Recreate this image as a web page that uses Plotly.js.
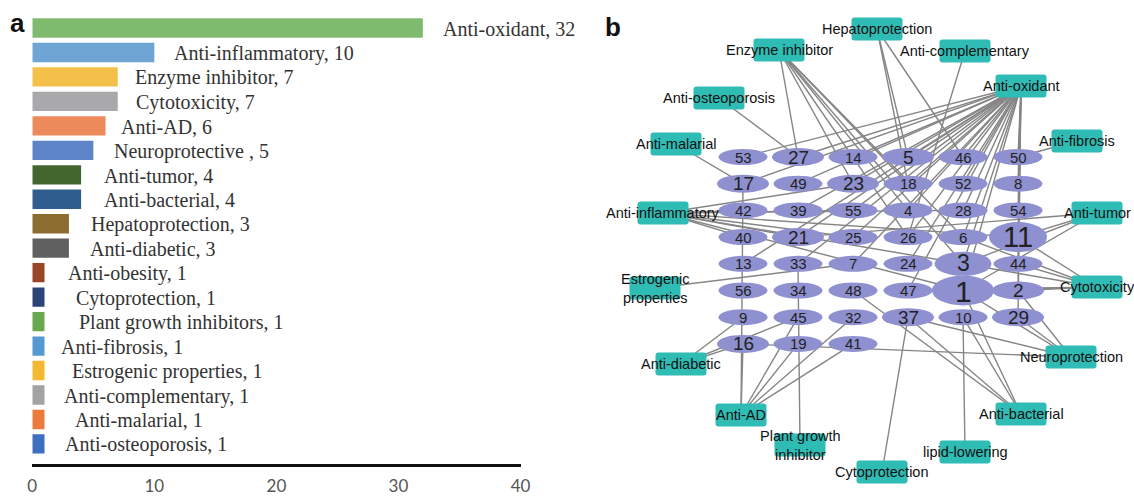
<!DOCTYPE html>
<html><head><meta charset="utf-8">
<script src="https://cdn.plot.ly/plotly-3.0.1.min.js"></script>
<style>html,body{margin:0;padding:0;background:#fff}#chart{width:1134px;height:496px}</style>
</head><body><div id="chart"></div>
<script>
// ================= DATA =================
// Panel a: number of compounds per bioactivity
const activities = ['Anti-oxidant','Anti-inflammatory','Enzyme inhibitor','Cytotoxicity','Anti-AD','Neuroprotective ','Anti-tumor','Anti-bacterial','Hepatoprotection','Anti-diabetic','Anti-obesity','Cytoprotection','Plant growth inhibitors','Anti-fibrosis','Estrogenic properties','Anti-complementary','Anti-malarial','Anti-osteoporosis'];
const counts = [32,10,7,7,6,5,4,4,3,3,1,1,1,1,1,1,1,1];
const xTicks = [0,10,20,30,40];

// Panel b: compound nodes (grid rows) and activity nodes with their links
const compoundRows = [
  [53,27,14,5,46,50],
  [17,49,23,18,52,8],
  [42,39,55,4,28,54],
  [40,21,25,26,6,11],
  [13,33,7,24,3,44],
  [56,34,48,47,1,2],
  [9,45,32,37,10,29],
  [16,19,41]
];
const functionNodes = ['Hepatoprotection','Enzyme inhibitor','Anti-complementary','Anti-oxidant','Anti-osteoporosis','Anti-malarial','Anti-fibrosis','Anti-inflammatory','Anti-tumor','Estrogenic<br>properties','Cytotoxicity','Anti-diabetic','Neuroprotection','Anti-AD','Anti-bacterial','Plant growth<br>inhibitor','lipid-lowering','Cytoprotection'];
const links = {
  'Anti-oxidant': [53,27,14,5,46,50,17,49,23,18,52,8,39,55,4,28,54,21,25,26,6,11,13,33,7,24,3,1,2,47,29,44],
  'Anti-inflammatory': [42,40,21,23,55,25,3,1,11,28],
  'Enzyme inhibitor': [27,23,18,4,26,6,3],
  'Cytotoxicity': [2,1,44,3,11,47,6],
  'Anti-AD': [17,16,45,19,32,41],
  'Neuroprotection': [16,37,1,29,2],
  'Anti-tumor': [11,3,21,1],
  'Anti-bacterial': [37,10,1,48],
  'Hepatoprotection': [5,18,46],
  'Anti-diabetic': [9,16,45],
  'Cytoprotection': [37],
  'Plant growth<br>inhibitor': [33],
  'Anti-fibrosis': [50],
  'Estrogenic<br>properties': [7],
  'Anti-complementary': [26],
  'Anti-malarial': [17],
  'Anti-osteoporosis': [27],
  'lipid-lowering': [10]
};

// ================= STYLE / LAYOUT =================
const barColors = ['#7fbb6f','#6ea5d5','#f5c04a','#a9a9ab','#ec8a5c','#5d85c8','#44672f','#2f5e8e','#8d6c30','#606060','#984626','#2a4478','#6aa84f','#5599d3','#f5b832','#a3a3a3','#ec7a3c','#3e6fc0'];
const labelPad = [18,18,15,16,13,19,21,21,20,19,21,29,32,14,25,17,28,18];

// network geometry (pixel units of panel b axes)
const gridX0 = 743, gridDX = 55, gridY0 = 157, gridDY = 26.7;
const funcPos = {
  'Hepatoprotection':[877,29], 'Enzyme inhibitor':[779,50], 'Anti-complementary':[965,51],
  'Anti-oxidant':[1021,86], 'Anti-osteoporosis':[719,98], 'Anti-malarial':[676,144],
  'Anti-fibrosis':[1077,141], 'Anti-inflammatory':[663,213], 'Anti-tumor':[1097,213],
  'Estrogenic<br>properties':[655,288], 'Cytotoxicity':[1097,287], 'Anti-diabetic':[681,364],
  'Neuroprotection':[1071,357], 'Anti-AD':[741,415], 'Anti-bacterial':[1021,414],
  'Plant growth<br>inhibitor':[800,445], 'lipid-lowering':[965,452], 'Cytoprotection':[882,472]
};
const bigNodes = {1:[62,30,30], 11:[58,30,29], 3:[57,24,23]};
const mediumNodes = [2,29,37,16,17,21,23,27,5];
function nodeSize(id){
  if (bigNodes[id]) return bigNodes[id];
  if (mediumNodes.includes(id)) return [52,18,19];
  return [49,16,15];
}

// ================= BUILD =================
const nodePos = {};
compoundRows.forEach((row, r) => row.forEach((id, c) => {
  nodePos[id] = [gridX0 + c*gridDX, gridY0 + r*gridDY];
}));

const ex = [], ey = [];
functionNodes.forEach(f => {
  const p = funcPos[f];
  (links[f]||[]).forEach(id => {
    const q = nodePos[id];
    ex.push(p[0], q[0], null); ey.push(p[1], q[1], null);
  });
});

const shapes = [], annotations = [];
// compound ellipses + labels
Object.keys(nodePos).forEach(k => {
  const id = +k, p = nodePos[k], s = nodeSize(id);
  shapes.push({type:'circle', xref:'x2', yref:'y2', layer:'above',
    x0:p[0]-s[0]/2, x1:p[0]+s[0]/2, y0:p[1]-s[1]/2, y1:p[1]+s[1]/2,
    fillcolor:'#8e90d0', line:{width:0}});
  annotations.push({xref:'x2', yref:'y2', x:p[0], y:p[1], text:String(id), showarrow:false,
    font:{family:'Liberation Sans, Arial, sans-serif', size:s[2], color:'#222'},
    xanchor:'center', yanchor:'middle', yshift:(id===1?-1:(id===3?1:0))});
});
// function rectangles + labels
const RW = 51, RH = 23, RR = 3;
functionNodes.forEach(f => {
  const [cx, cy] = funcPos[f];
  const x0 = cx-RW/2, x1 = cx+RW/2, y0 = cy-RH/2, y1 = cy+RH/2;
  const path = `M ${x0+RR},${y0} H ${x1-RR} Q ${x1},${y0} ${x1},${y0+RR} V ${y1-RR} Q ${x1},${y1} ${x1-RR},${y1} H ${x0+RR} Q ${x0},${y1} ${x0},${y1-RR} V ${y0+RR} Q ${x0},${y0} ${x0+RR},${y0} Z`;
  shapes.push({type:'path', xref:'x2', yref:'y2', layer:'above', path:path,
    fillcolor:'#2fbcb4', line:{width:0}});
  annotations.push({xref:'x2', yref:'y2', x:cx, y:cy, text:f, showarrow:false,
    font:{family:'Liberation Sans, Arial, sans-serif', size:14.5, color:'#111'},
    xanchor:'center', yanchor:'middle'});
});

// bar labels
activities.forEach((a, i) => {
  annotations.push({xref:'x', yref:'y', x:counts[i], y:a, text:a + ', ' + counts[i],
    showarrow:false, xanchor:'left', yanchor:'middle', xshift:labelPad[i], yshift:-1,
    font:{family:'Liberation Serif, Times New Roman, serif', size:20, color:'#333'}});
});

// panel letters
annotations.push({xref:'paper', yref:'paper', x:17/1134, y:1-23/496, text:'<b>a</b>', showarrow:false,
  xanchor:'center', yanchor:'middle', font:{family:'Liberation Sans, Arial, sans-serif', size:26, color:'#111'}});
annotations.push({xref:'paper', yref:'paper', x:613/1134, y:1-27/496, text:'<b>b</b>', showarrow:false,
  xanchor:'center', yanchor:'middle', font:{family:'Liberation Sans, Arial, sans-serif', size:26, color:'#111'}});

const traces = [
  {type:'bar', orientation:'h', x:counts, y:activities, xaxis:'x', yaxis:'y',
   marker:{color:barColors, line:{width:0}}, width:0.79, hoverinfo:'skip', showlegend:false},
  {type:'scatter', mode:'lines', x:ex, y:ey, xaxis:'x2', yaxis:'y2',
   line:{color:'#858585', width:1.4}, hoverinfo:'skip', showlegend:false, connectgaps:false}
];

const layout = {
  width:1134, height:496,
  margin:{l:0, r:0, t:0, b:0},
  paper_bgcolor:'#fff', plot_bgcolor:'rgba(0,0,0,0)',
  showlegend:false,
  xaxis:{domain:[32.3/1134, 520.5/1134], range:[0,40], showgrid:false, zeroline:false,
    showline:true, linecolor:'#111', linewidth:2.5, ticks:'', tickvals:xTicks,
    ticklabelstandoff:5,
    tickfont:{family:'Lato, Carlito, sans-serif', size:17, color:'#555'}, fixedrange:true},
  yaxis:{domain:[(496-464)/496, (496-5)/496], type:'category', range:[17.82,-0.94],
    showticklabels:false, showgrid:false, zeroline:false, showline:false, ticks:'', fixedrange:true},
  xaxis2:{domain:[590/1134, 1], range:[590,1134], visible:false, fixedrange:true},
  yaxis2:{domain:[0,1], range:[496,0], visible:false, fixedrange:true, anchor:'x2'},
  shapes:shapes,
  annotations:annotations
};

Plotly.newPlot('chart', traces, layout, {displayModeBar:false, staticPlot:true});
</script>
</body></html>
